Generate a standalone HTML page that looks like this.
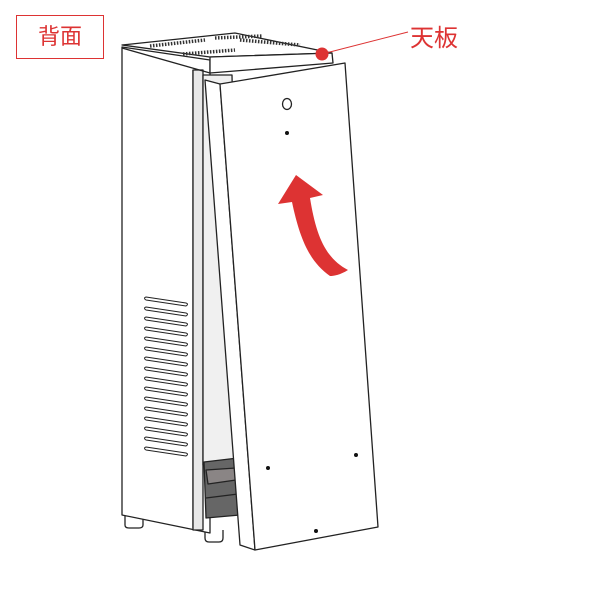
<!DOCTYPE html>
<html><head><style>
body{margin:0;background:#fff;width:600px;height:600px;overflow:hidden;position:relative;font-family:"Liberation Sans","Noto Sans CJK JP",sans-serif}
.lab{position:absolute;left:16px;top:15px;width:88px;height:44px;border:1px solid #d33;box-sizing:border-box;color:#d33;font-size:22px;text-align:center;line-height:42px}
.tb{position:absolute;left:410px;top:18px;color:#d33;font-size:24px}
</style></head><body>
<svg width="600" height="600" style="position:absolute;left:0;top:0" stroke="#222" stroke-width="1.3" fill="#fff" stroke-linejoin="round">
<path d="M125 515 v10 q0 3 4 3 h10 q4 0 4-3 v-8"/>
<path d="M205 528 v10 q0 4 4 4 h10 q4 0 4-4 v-8"/>
<polygon points="122,47 210,60 210,533 122,515"/>
<line x1="193" y1="70" x2="193" y2="528"/>
<rect x="193" y="70" width="10" height="460" fill="#e8e8e8"/>
<polygon points="203,75 232,75 240,460 203,465" fill="#f0f0f0"/>
<polygon points="204,462 238,458 240,515 206,518" fill="#666"/>
<polygon points="206,470 236,468 236,480 208,484" fill="#8a8585"/>
<line x1="206" y1="498" x2="238" y2="494"/>
<g fill="none" stroke-width="1">
<path d="M146 297 l40 6 q3 1 0 3 l-40-6 q-3-2 0-3z"/>
<path d="M146 307 l40 6 q3 1 0 3 l-40-6 q-3-2 0-3z"/>
<path d="M146 317 l40 6 q3 1 0 3 l-40-6 q-3-2 0-3z"/>
<path d="M146 327 l40 6 q3 1 0 3 l-40-6 q-3-2 0-3z"/>
<path d="M146 337 l40 6 q3 1 0 3 l-40-6 q-3-2 0-3z"/>
<path d="M146 347 l40 6 q3 1 0 3 l-40-6 q-3-2 0-3z"/>
<path d="M146 357 l40 6 q3 1 0 3 l-40-6 q-3-2 0-3z"/>
<path d="M146 367 l40 6 q3 1 0 3 l-40-6 q-3-2 0-3z"/>
<path d="M146 377 l40 6 q3 1 0 3 l-40-6 q-3-2 0-3z"/>
<path d="M146 387 l40 6 q3 1 0 3 l-40-6 q-3-2 0-3z"/>
<path d="M146 397 l40 6 q3 1 0 3 l-40-6 q-3-2 0-3z"/>
<path d="M146 407 l40 6 q3 1 0 3 l-40-6 q-3-2 0-3z"/>
<path d="M146 417 l40 6 q3 1 0 3 l-40-6 q-3-2 0-3z"/>
<path d="M146 427 l40 6 q3 1 0 3 l-40-6 q-3-2 0-3z"/>
<path d="M146 437 l40 6 q3 1 0 3 l-40-6 q-3-2 0-3z"/>
<path d="M146 447 l40 6 q3 1 0 3 l-40-6 q-3-2 0-3z"/>
</g>
<polygon points="122,45 235,33 332,53 210,57"/>
<polygon points="210,57 332,53 333,63 210,73"/>
<line x1="122" y1="48" x2="210" y2="73"/>
<g stroke="#333" stroke-width="3.5" stroke-dasharray="1.5 1.5">
<line x1="150" y1="46" x2="205" y2="40"/>
<line x1="183" y1="54" x2="235" y2="50"/>
<line x1="240" y1="40" x2="300" y2="45"/>
<line x1="215" y1="38" x2="262" y2="36"/>
</g>
<polygon points="205,80 220,84 255,550 240,545"/>
<polygon points="220,84 345,63 378,527 255,550"/>
<ellipse cx="287" cy="104" rx="4.5" ry="5.5"/>
<g fill="#111" stroke="none">
<circle cx="287" cy="133" r="2"/><circle cx="268" cy="468" r="2"/><circle cx="356" cy="455" r="2"/><circle cx="316" cy="531" r="2"/>
</g>
<path d="M296 175 L323 195 L310 198 C316 235 325 258 348 270 C340 275 334 276 330 276 C310 262 300 240 292 202 L278 204 Z" fill="#d33" stroke="none"/>
<line x1="322" y1="54" x2="408" y2="32" stroke="#d33" stroke-width="1"/>
<circle cx="322" cy="54" r="6.5" fill="#d33" stroke="none"/>
</svg>
<div class="lab">背面</div>
<div class="tb">天板</div>
</body></html>
